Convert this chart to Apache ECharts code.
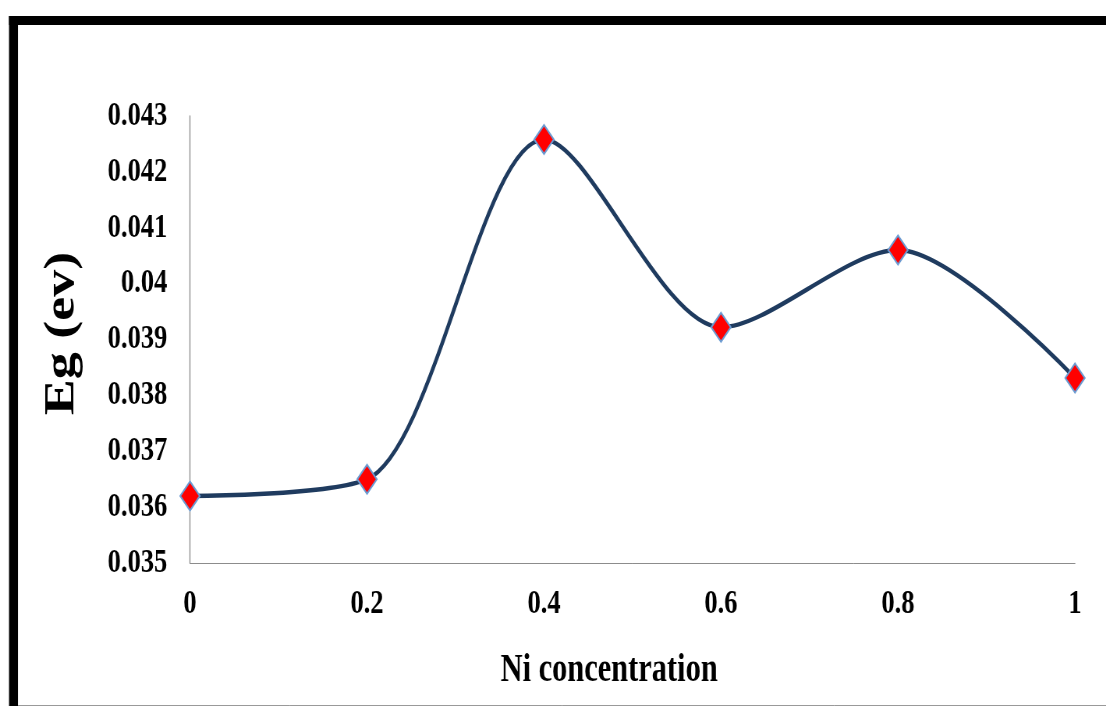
<!DOCTYPE html>
<html>
<head>
<meta charset="utf-8">
<script src="https://cdn.jsdelivr.net/npm/echarts@6/dist/echarts.min.js"></script>
<style>
html,body{margin:0;padding:0;background:#fff;overflow:hidden;}
#wrap{width:1106px;height:706px;overflow:hidden;position:relative;}
#chart{width:1418px;height:706px;transform:scaleX(0.78);transform-origin:0 0;position:absolute;left:0;top:0;}
</style>
</head>
<body>
<div id="wrap"><div id="chart"></div></div>
<script>
const niConcentration = [0, 0.2, 0.4, 0.6, 0.8, 1];
const egValues = [0.0362, 0.0365, 0.04258, 0.03922, 0.0406, 0.03831];
const xTitle = 'Ni concentration';
const yTitle = 'Eg (ev)';

const chart = echarts.init(document.getElementById('chart'));
const fontFamily = '"Liberation Serif", "Times New Roman", serif';
chart.setOption({
  backgroundColor: '#fff',
  animation: false,
  grid: {left: 243.6, right: 39.8, top: 116, bottom: 143},
  graphic: [
    {type: 'line', shape: {x1: 11.5, y1: 20.5, x2: 1418, y2: 20.5}, style: {stroke: '#000', lineWidth: 9}},
    {type: 'line', shape: {x1: 17.3, y1: 16, x2: 17.3, y2: 706}, style: {stroke: '#000', lineWidth: 11.5}},
    {type: 'line', shape: {x1: 23, y1: 705.5, x2: 1418, y2: 705.5}, style: {stroke: '#999', lineWidth: 1}}
  ],
  xAxis: {
    type: 'value', min: 0, max: 1, interval: 0.2,
    name: xTitle, nameLocation: 'middle', nameGap: 88,
    nameTextStyle: {fontFamily, fontWeight: 'bold', fontSize: 39, color: '#000', padding: [0, 60, 0, 0]},
    axisLine: {lineStyle: {color: '#8c8c8c', width: 1}},
    axisTick: {show: false},
    splitLine: {show: false},
    axisLabel: {
      fontFamily, fontWeight: 'bold', fontSize: 34, color: '#000', margin: 24,
      formatter: v => String(parseFloat(v.toFixed(1)))
    }
  },
  yAxis: {
    type: 'value', min: 0.035, max: 0.043, interval: 0.001,
    name: yTitle, nameLocation: 'middle', nameGap: 137, nameRotate: 90,
    nameTextStyle: {fontFamily, fontWeight: 'bold', fontSize: 54, color: '#000', padding: [0, 0, 0, 12]},
    axisLine: {show: true, lineStyle: {color: '#8c8c8c', width: 1.3}},
    axisTick: {show: false},
    splitLine: {show: false},
    axisLabel: {
      fontFamily, fontWeight: 'bold', fontSize: 34, color: '#000', margin: 29,
      formatter: v => String(parseFloat(v.toFixed(3)))
    }
  },
  series: [{
    type: 'line',
    data: niConcentration.map((x, i) => [x, egValues[i]]),
    smooth: 0.3,
    lineStyle: {color: '#1f3b5f', width: 4.5},
    symbol: 'diamond',
    symbolSize: [25, 29],
    itemStyle: {color: '#ff0000', borderColor: '#6b9bd2', borderWidth: 2}
  }]
});
</script>
</body>
</html>
